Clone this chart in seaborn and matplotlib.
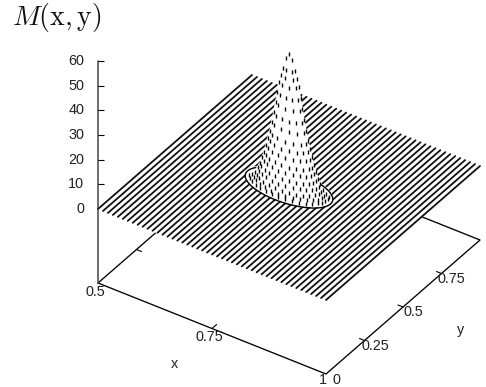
import numpy as np
import pandas as pd
import seaborn as sns
import matplotlib.pyplot as plt

z_ticks = [0, 10, 20, 30, 40, 50, 60]
x_ticks = [0.5, 0.75, 1]
y_ticks = [0, 0.25, 0.5, 0.75]

# peak profile: radius in data units, height
peak_x = 0.75
peak_y = 0.5
ring_radius = [0.0, 0.007, 0.012, 0.016, 0.020, 0.024, 0.028, 0.032, 0.036, 0.040,
               0.044, 0.048, 0.052, 0.056, 0.060, 0.065, 0.070, 0.076, 0.083, 0.091]
ring_height = [54, 52, 48, 45, 42, 37.5, 33.5, 29, 25, 21,
               18, 15, 12, 9.5, 7, 5, 3, 1.8, 1, 0.4]
ring_dots = [1, 2, 4, 4, 5, 6, 6, 7, 7, 8, 9, 10, 11, 12, 13, 14, 15, 16, 18, 0]

mesh_lines = 47


def project(x, y, z):
    # oblique gnuplot view, result is in picture pixels
    u = (np.asarray(x, dtype=float) - 0.5) / 0.5
    v = np.asarray(y, dtype=float)
    w = np.asarray(z, dtype=float)
    return 98 + 228 * u + 154 * v, 209 + 91 * u - 134 * v - 2.467 * w


sns.set_theme(style="white")
plt.rcParams['font.family'] = ['Liberation Sans', 'DejaVu Sans']
plt.rcParams['mathtext.fontset'] = 'cm'

fig = plt.figure(figsize=(4.86, 3.87), dpi=100)
ax = fig.add_axes([0, 0, 1, 1])

# base frame
zb = -30
sx, sy = project([0.5, 1, 1, 0.5, 0.5], [0, 0, 1, 1, 0], [zb] * 5)
sns.lineplot(x=sx, y=sy, sort=False, estimator=None, color='black', lw=0.95, ax=ax, legend=False)

# ticks on the base frame
for t in x_ticks[1:-1]:
    a = project([t, t], [0, 0.03], [zb, zb])
    sns.lineplot(x=a[0], y=a[1], sort=False, estimator=None, color='black', lw=0.8, ax=ax, legend=False)
for t in y_ticks[1:]:
    a = project([0.5, 0.511], [t, t], [zb, zb])
    sns.lineplot(x=a[0], y=a[1], sort=False, estimator=None, color='black', lw=0.8, ax=ax, legend=False)
    a = project([1, 0.989], [t, t], [zb, zb])
    sns.lineplot(x=a[0], y=a[1], sort=False, estimator=None, color='black', lw=0.8, ax=ax, legend=False)

# z axis
a = project([0.5, 0.5], [0, 0], [zb, z_ticks[-1]])
sns.lineplot(x=a[0], y=a[1], sort=False, estimator=None, color='#555555', lw=1.2, ax=ax, legend=False)
for t in z_ticks:
    px, py = project(0.5, 0, t)
    ax.plot([px, px + 6], [py, py], color='black', lw=0.8, solid_capstyle='butt')
    ax.text(px - 14, py, str(t), ha='right', va='center', fontsize=10.4, color='#222222')

# surface: white sheet then the mesh lines
cx, cy = project([0.5, 1, 1, 0.5], [0, 0, 1, 1], [0, 0, 0, 0])
ax.fill(cx, cy, color='white', zorder=3)
mesh_x = np.linspace(0.5, 1, mesh_lines)
rows = []
for i, mx in enumerate(mesh_x):
    a = project([mx, mx], [0, 1], [0, 0])
    rows.append(pd.DataFrame({'sx': a[0], 'sy': a[1], 'line': i}))
mesh = pd.concat(rows)
sns.lineplot(data=mesh, x='sx', y='sy', units='line', estimator=None, sort=False,
             color='#111111', lw=1.3, ax=ax, legend=False, zorder=4)

# peak: white silhouette from the rings, plus the sides joining them
radius = np.array(ring_radius)
height = np.array(ring_height)
ang = np.radians(np.arange(0, 361, 6))
for r, h in zip(radius, height):
    rx, ry = project(peak_x + r * np.cos(ang), peak_y + r * np.sin(ang), h)
    ax.fill(rx, ry, color='white', lw=0.5, zorder=5)
side = np.radians(18.7)
rxs, rys = project(peak_x + radius * np.cos(side), peak_y + radius * np.sin(side), height)
lxs, lys = project(peak_x - radius * np.cos(side), peak_y - radius * np.sin(side), height)
ax.fill(np.r_[rxs, lxs[::-1]], np.r_[rys, lys[::-1]], color='white', lw=0.5, zorder=5)

# foot of the peak
arc = np.radians(np.arange(158, 424, 4))
fx, fy = project(peak_x + radius[-1] * np.cos(arc), peak_y + radius[-1] * np.sin(arc), 0)
sns.lineplot(x=fx, y=fy, sort=False, estimator=None, color='black', lw=1.0, ax=ax, legend=False, zorder=6)

# dots on the side facing the viewer
dx, dy = [], []
for r, h, n in zip(radius, height, ring_dots):
    az = np.radians(np.linspace(-158, 15, n))
    a = project(peak_x + r * np.cos(az), peak_y + r * np.sin(az), h)
    dx.extend(a[0])
    dy.extend(a[1])
sns.scatterplot(x=dx, y=dy, marker='|', s=6, linewidth=1.0, color='black', ax=ax, legend=False, zorder=7)

# labels
tc = '#222222'
ax.text(12, 18, r'$M(\mathrm{x},\mathrm{y})$', fontsize=20, ha='left', va='center', color='#111111')
ax.text(95, 292.5, '0.5', ha='center', va='center', fontsize=10.4, color=tc)
ax.text(209, 337, '0.75', ha='center', va='center', fontsize=10.4, color=tc)
ax.text(323, 380, '1', ha='center', va='center', fontsize=10.4, color=tc)
ax.text(336, 380, '0', ha='center', va='center', fontsize=10.4, color=tc)
ax.text(375, 346, '0.25', ha='center', va='center', fontsize=10.4, color=tc)
ax.text(413, 312.5, '0.5', ha='center', va='center', fontsize=10.4, color=tc)
ax.text(451.5, 279, '0.75', ha='center', va='center', fontsize=10.4, color=tc)
ax.text(174, 364, 'x', ha='center', va='center', fontsize=10.4, color=tc)
ax.text(460.5, 330, 'y', ha='center', va='center', fontsize=10.4, color=tc)

ax.set_xlim(0, 486)
ax.set_ylim(387, 0)
ax.set_axis_off()

fig.savefig('out.png', dpi=100)
